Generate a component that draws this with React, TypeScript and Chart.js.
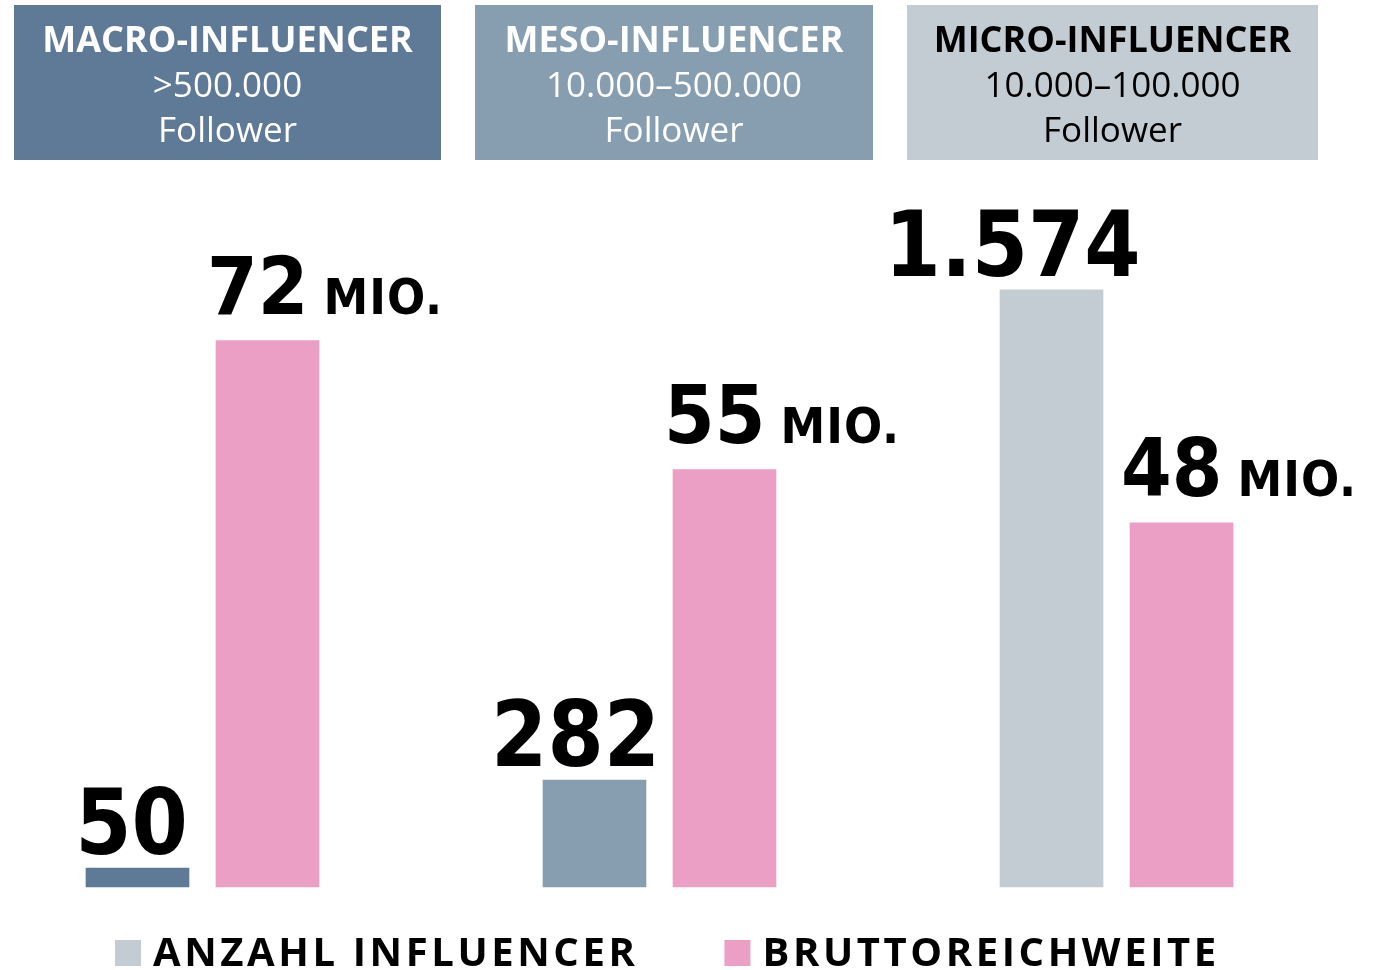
import { useEffect, useRef } from 'react';
import { Chart, registerables } from 'chart.js';

Chart.register(...registerables);

// ---- data ----
const categories = ['MACRO-INFLUENCER', 'MESO-INFLUENCER', 'MICRO-INFLUENCER'];
const followerRanges = ['>500.000', '10.000–500.000', '10.000–100.000'];
const followerWord = 'Follower';
const influencerCounts = [50, 282, 1574];
const grossReach = [72, 55, 48];
const reachUnit = 'MIO.';
const seriesLabels = ['ANZAHL INFLUENCER', 'BRUTTOREICHWEITE'];

// ---- styles ----
const groupColors = ['#5e7a96', '#879eb1', '#c3ccd3'];
const headerTextColors = ['#ffffff', '#ffffff', '#000000'];
const pink = '#eb9fc5';
const headerBoxes = [
  { x: 14, w: 427 },
  { x: 475, w: 398 },
  { x: 907, w: 411 },
];
const HEADER_TOP = 5;
const HEADER_H = 155;
const NUM_FONT = '"DejaVu Sans Condensed", "DejaVu Sans", sans-serif';
const HEAD_FONT = '"Open Sans", "Noto Sans", sans-serif';

const decorPlugin = {
  id: 'decor',
  beforeDraw(chart: any) {
    const ctx = chart.ctx as CanvasRenderingContext2D;
    ctx.save();
    headerBoxes.forEach((b, i) => {
      ctx.fillStyle = groupColors[i];
      ctx.fillRect(b.x, HEADER_TOP, b.w, HEADER_H);
      const cx = b.x + b.w / 2;
      ctx.fillStyle = headerTextColors[i];
      ctx.textAlign = 'center';
      ctx.textBaseline = 'alphabetic';
      ctx.font = `bold 36px ${HEAD_FONT}`;
      ctx.fillText(categories[i], cx, 52);
      ctx.font = `normal 35px ${HEAD_FONT}`;
      ctx.fillText(followerRanges[i], cx, 97);
      ctx.fillText(followerWord, cx, 142);
    });
    ctx.restore();
  },
  afterDatasetsDraw(chart: any) {
    const ctx = chart.ctx as CanvasRenderingContext2D;
    ctx.save();
    (ctx as any).fontStretch = 'condensed';
    ctx.fillStyle = '#000000';
    ctx.textBaseline = 'alphabetic';
    const m0 = chart.getDatasetMeta(0);
    m0.data.forEach((bar: any, i: number) => {
      const p = bar.getProps(['x', 'y', 'width'], true);
      ctx.font = `bold 90px ${NUM_FONT}`;
      ctx.textAlign = 'center';
      const t = influencerCounts[i].toLocaleString('de-DE');
      const w = ctx.measureText(t).width;
      ctx.fillText(t, p.x + 20 - w * 0.23, p.y - 14);
    });
    const m1 = chart.getDatasetMeta(1);
    m1.data.forEach((bar: any, i: number) => {
      const p = bar.getProps(['x', 'y', 'width'], true);
      const left = p.x - p.width / 2 - 9;
      ctx.textAlign = 'left';
      ctx.font = `bold 81px ${NUM_FONT}`;
      const t = String(grossReach[i]);
      ctx.fillText(t, left, p.y - 27);
      const w = ctx.measureText(t).width;
      ctx.font = `bold 50px ${NUM_FONT}`;
      (ctx as any).letterSpacing = '1px';
      ctx.fillText(reachUnit, left + w + 15, p.y - 27);
      (ctx as any).letterSpacing = '0px';
    });
    ctx.restore();

    // legend
    ctx.save();
    (ctx as any).letterSpacing = '3.6px';
    ctx.font = `bold 40px ${HEAD_FONT}`;
    ctx.textAlign = 'left';
    ctx.textBaseline = 'alphabetic';
    const legendColors = [groupColors[2], pink];
    let x = 115;
    seriesLabels.forEach((lab, i) => {
      ctx.fillStyle = legendColors[i];
      ctx.fillRect(x, 940, 26, 26);
      ctx.fillStyle = '#000000';
      ctx.fillText(lab, x + 38, 966);
      x += 38 + ctx.measureText(lab).width + 86;
    });
    ctx.restore();
  },
};

export default function App() {
  const ref = useRef<HTMLCanvasElement | null>(null);
  useEffect(() => {
    if (!ref.current) return;
    const chart = new Chart(ref.current, {
      type: 'bar',
      data: {
        labels: categories,
        datasets: [
          {
            label: seriesLabels[0],
            data: influencerCounts,
            backgroundColor: groupColors,
            yAxisID: 'y',
            barThickness: 130,
            maxBarThickness: 103,
            clip: false as any,
          },
          {
            label: seriesLabels[1],
            data: grossReach,
            backgroundColor: pink,
            yAxisID: 'y1',
            barThickness: 130,
            maxBarThickness: 103,
            clip: false as any,
          },
        ],
      },
      options: {
        animation: false,
        responsive: false,
        maintainAspectRatio: false,
        devicePixelRatio: 1,
        layout: { padding: { left: 202.5, right: 266.5, top: 204, bottom: 83 } },
        plugins: { legend: { display: false }, tooltip: { enabled: false } },
        scales: {
          x: { display: false, offset: false },
          y: { display: false, min: 0, max: 1800 },
          y1: { display: false, min: 0, max: 90, position: 'right' },
        },
      },
      plugins: [decorPlugin],
    });
    return () => chart.destroy();
  }, []);
  return (
    <div style={{ position: 'fixed', left: 0, top: 0, width: 1383, height: 970, background: '#fff' }}>
      <canvas ref={ref} width={1383} height={970} style={{ width: 1383, height: 970, display: 'block' }} />
    </div>
  );
}
